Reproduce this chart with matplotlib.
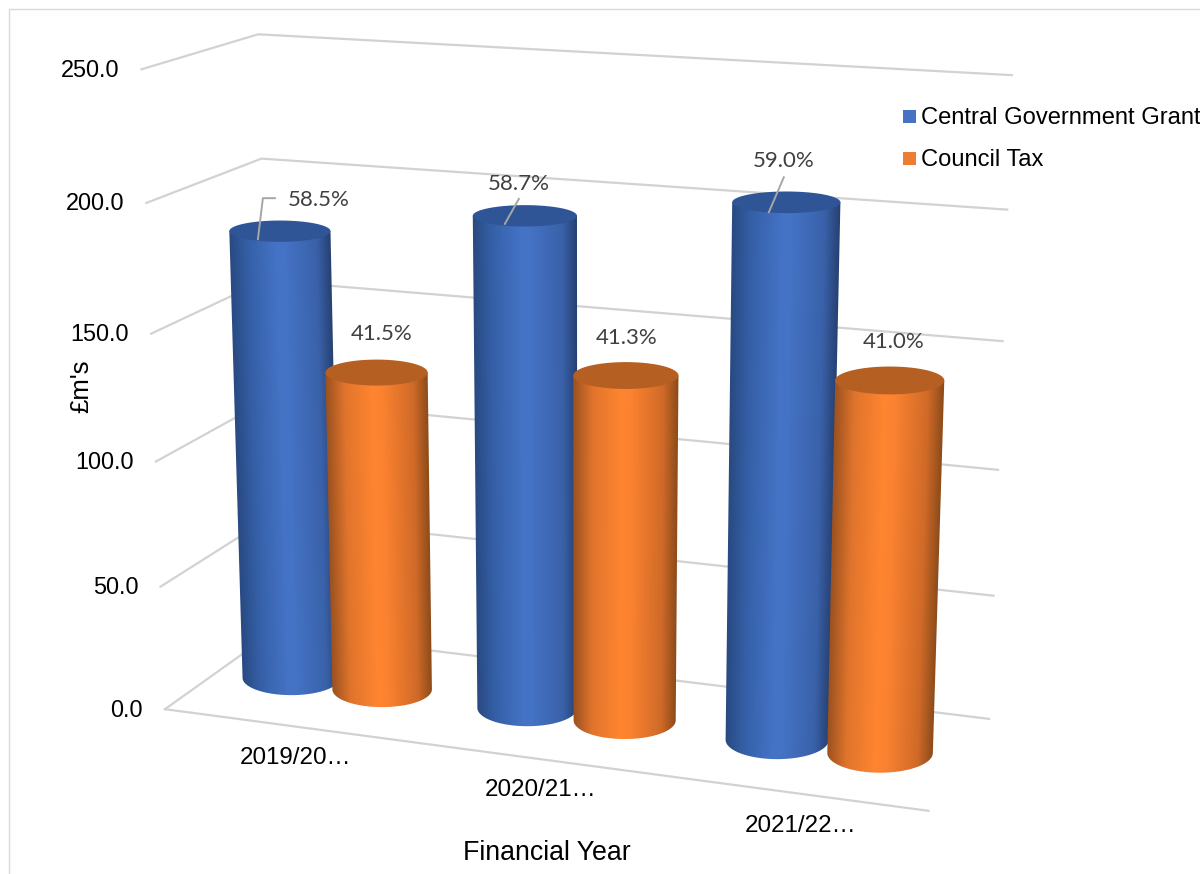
import matplotlib
matplotlib.use("Agg")
import matplotlib.pyplot as plt
from matplotlib.patches import Polygon, Rectangle
import numpy as np

plt.rcParams["font.family"] = ["Liberation Sans", "DejaVu Sans"]

# chart data, in £m's
years = ["2019/20…", "2020/21…", "2021/22…"]
central_grant = [182.0, 195.0, 207.0]
council_tax = [129.3, 137.0, 144.0]
series_names = ["Central Government Grant", "Council Tax"]
axis_ticks = [0, 50, 100, 150, 200, 250]

# known corners of the box: (across, depth, value) -> canvas position
box_world = [(0, 0, 0), (0, 0, 50), (0, 0, 100), (0, 0, 150), (0, 0, 200), (0, 0, 250),
             (0, 1, 0), (0, 1, 150), (0, 1, 200), (0, 1, 250),
             (1, 1, 0), (1, 1, 50), (1, 1, 100), (1, 1, 150), (1, 1, 200), (1, 1, 250),
             (1, 0, 0)]
box_canvas = [(166, 708), (160, 588), (155, 461), (151, 335), (146, 204), (141, 69),
              (273, 631), (265, 280), (262, 158), (260, 34),
              (989, 719), (994, 597), (998, 471), (1002, 342), (1006, 209), (1012, 74),
              (930, 809)]


def fit_camera(world, canvas):
    # plain DLT, with the last matrix entry fixed at 1
    rows, rhs = [], []
    for (x, y, z), (u, v) in zip(world, canvas):
        rows.append([x, y, z, 1, 0, 0, 0, 0, -u * x, -u * y, -u * z])
        rows.append([0, 0, 0, 0, x, y, z, 1, -v * x, -v * y, -v * z])
        rhs += [u, v]
    m = np.linalg.lstsq(np.array(rows, float), np.array(rhs, float), rcond=None)[0]
    return np.append(m, 1).reshape(3, 4)


camera = fit_camera(box_world, box_canvas)


def proj(x, y, z):
    p = camera @ np.array([x, y, z, 1.0])
    return p[0] / p[2], p[1] / p[2]


BLUE_STOPS = ["#294a82", "#3560a8", "#4472c4", "#4472c4", "#3a62aa", "#263f70"]
ORANGE_STOPS = ["#9c5220", "#e0742c", "#ff8530", "#fb8230", "#d06a28", "#8a4a1a"]
STOP_POS = [0, 0.18, 0.45, 0.55, 0.85, 1]


def draw_cylinder(ax, x, value, half_x, half_y, stops, top_color, zorder):
    bx, by = proj(x, 0.5, 0)
    tx, ty = proj(x, 0.5, value)
    # ellipse radii follow the box at the height of each end
    brx = (proj(x + half_x, 0.5, 0)[0] - proj(x - half_x, 0.5, 0)[0]) / 2
    trx = (proj(x + half_x, 0.5, value)[0] - proj(x - half_x, 0.5, value)[0]) / 2
    bry = (proj(x, 0.5 - half_y, 0)[1] - proj(x, 0.5 + half_y, 0)[1]) / 2
    try_ = (proj(x, 0.5 - half_y, value)[1] - proj(x, 0.5 + half_y, value)[1]) / 2

    # outline of the side wall: top edge, then down and round the base
    phi = np.linspace(0, np.pi, 90)
    body_x = np.r_[tx - trx, bx - brx * np.cos(phi), tx + trx]
    body_y = np.r_[ty, by + bry * np.sin(phi), ty]

    # left-to-right shading that follows the taper, one row per pixel
    x0, x1 = int(body_x.min()) - 2, int(body_x.max()) + 3
    y0, y1 = int(ty) - 2, int(by + bry) + 3
    gx, gy = np.meshgrid(np.arange(x0, x1), np.arange(y0, y1))
    frac = (gy - ty) / (by - ty)
    left = (tx - trx) + frac * ((bx - brx) - (tx - trx))
    right = (tx + trx) + frac * ((bx + brx) - (tx + trx))
    t = np.clip((gx - left) / (right - left), 0, 1)
    rgb = np.array([matplotlib.colors.to_rgb(c) for c in stops])
    img = np.dstack([np.interp(t, STOP_POS, rgb[:, i]) for i in range(3)])
    im = ax.imshow(img, extent=(x0 - 0.5, x1 - 0.5, y1 - 0.5, y0 - 0.5), origin="upper",
                   aspect="auto", interpolation="bilinear", zorder=zorder)
    im.set_clip_path(Polygon(np.c_[body_x, body_y], transform=ax.transData))

    # lid
    th = np.linspace(0, 2 * np.pi, 120)
    ax.fill(tx + trx * np.cos(th), ty + try_ * np.sin(th), color=top_color, lw=0, zorder=zorder + 0.1)
    return tx, ty


fig = plt.figure(figsize=(12, 8.74), dpi=100)
ax = fig.add_axes([0, 0, 1, 1])
ax.axis("off")

# outer frame
ax.plot([9, 9, 1200], [874, 9, 9], color="#d9d9d9", lw=1.0, zorder=1)

# gridlines on the side and back walls
GRID = "#d2d2d2"
for v in axis_ticks:
    pts = [proj(0, 0, v), proj(0, 1, v), proj(1, 1, v)]
    ax.plot([p[0] for p in pts], [p[1] for p in pts], color=GRID, lw=1.6, zorder=2)
    fx, fy = proj(0, 0, v)
    ax.text(fx - 22, fy + 1, "%.1f" % v, ha="right", va="center", fontsize=16.9, color="black")

# front edge of the floor
f0, f1 = proj(0, 0, 0), proj(1, 0, 0)
ax.plot([f0[0], f1[0]], [f0[1], f1[1]], color=GRID, lw=1.6, zorder=2)

centres = [1 / 6, 1 / 2, 5 / 6]
offsets = [0.065, 0.066, 0.066]
half_xs = [0.0705, 0.0685, 0.067]
half_y = 0.22

label_pos = [[(319, 200), (382, 334)], [(519, 184), (627, 338)], [(784, 161), (894, 342)]]
# leader lines, as offsets from the lid centre
leaders = [[(-22, 8), (-17, -33), (-5, -33)], [(-20, 8), (-6, -17)], [(-17.5, 10), (-2.5, -25)]]

for i, c in enumerate(centres):
    total = central_grant[i] + council_tax[i]
    z = 10 + i * 2
    tx, ty = draw_cylinder(ax, c - offsets[i], central_grant[i], half_xs[i], half_y,
                           BLUE_STOPS, "#2f5597", z)
    draw_cylinder(ax, c + offsets[i], council_tax[i], half_xs[i], half_y,
                  ORANGE_STOPS, "#b55f22", z + 1)
    ax.plot([tx + p[0] for p in leaders[i]], [ty + p[1] for p in leaders[i]],
            color="#a6a6a6", lw=1.4, zorder=30)
    for j, share in enumerate([central_grant[i] / total, council_tax[i] / total]):
        lx, ly = label_pos[i][j]
        ax.text(lx, ly, "%.1f%%" % (share * 100), ha="center", va="center", fontsize=16,
                color="#404040", family="Lato", zorder=31)

# category labels under the front edge
cat_pos = [(295.5, 758.5), (541, 790.5), (801, 825.5)]
for name, (x, y) in zip(years, cat_pos):
    ax.text(x, y, name, ha="center", va="center", fontsize=17.4, color="black")

ax.text(546.5, 853, "Financial Year", ha="center", va="center", fontsize=19.3, color="black")
ax.text(81, 386, "£m's", ha="center", va="center", rotation=90, fontsize=18.5, color="black")

# legend
for y, name, col in zip([116.5, 158.5], series_names, ["#4472c4", "#ed7d31"]):
    ax.add_patch(Rectangle((903, y - 6.5), 13, 13, color=col, lw=0, zorder=5))
    ax.text(921, y + 1.5, name, ha="left", va="center", fontsize=17.1, color="black")

ax.set_xlim(0, 1200)
ax.set_ylim(874, 0)

fig.savefig("out.png", dpi=100, facecolor="white")
